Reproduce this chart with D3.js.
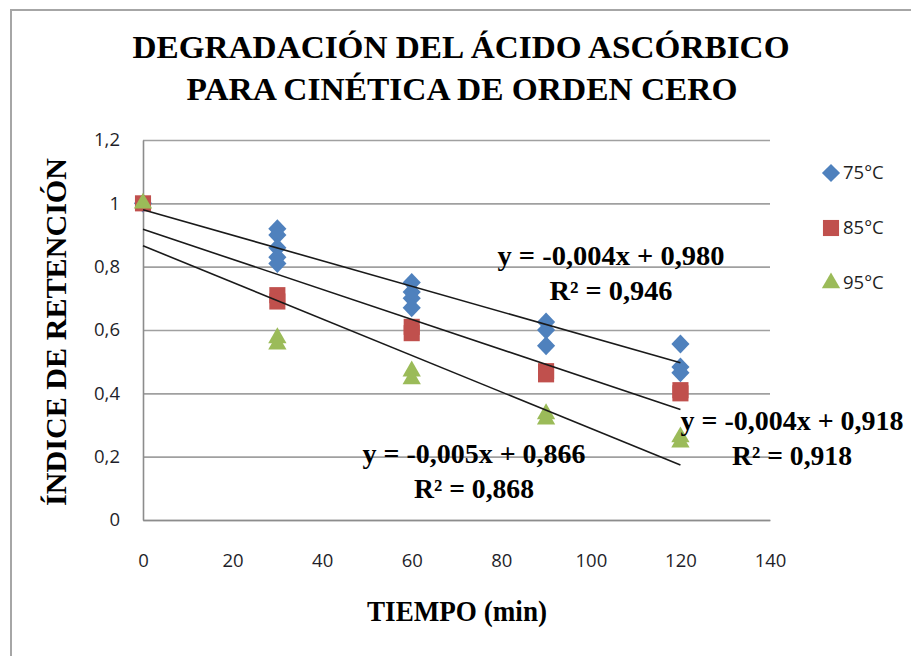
<!DOCTYPE html>
<html>
<head>
<meta charset="utf-8">
<script src="https://cdn.jsdelivr.net/npm/d3@7"></script>
<style>
  body { margin: 0; background: #fff; }
  svg { display: block; }
</style>
</head>
<body>
<script>
// Chart values
var seriesNames = ["75°C", "85°C", "95°C"];
var seriesColors = ["#4F81BD", "#C0504D", "#9BBB59"];

var time75 = [0, 30, 30, 30, 30, 30, 60, 60, 60, 60, 90, 90, 90, 120, 120, 120];
var ret75 = [1.00, 0.92, 0.90, 0.86, 0.83, 0.81, 0.75, 0.72, 0.70, 0.67, 0.625, 0.60, 0.55, 0.556, 0.483, 0.465];

var time85 = [0, 30, 30, 60, 60, 90, 90, 120, 120];
var ret85 = [1.00, 0.71, 0.69, 0.61, 0.59, 0.47, 0.46, 0.41, 0.40];

var time95 = [0, 30, 30, 60, 60, 90, 90, 120, 120];
var ret95 = [1.00, 0.575, 0.555, 0.47, 0.445, 0.335, 0.318, 0.262, 0.246];

// linear trend lines (slope, intercept) and their labels
var trendSlope = [-0.00403, -0.00474, -0.00577];
var trendIntercept = [0.980, 0.918, 0.866];
var trendRange = [0, 120];
var eqLabels = ["y = -0,004x + 0,980", "y = -0,004x + 0,918", "y = -0,005x + 0,866"];
var r2Labels = ["R² = 0,946", "R² = 0,918", "R² = 0,868"];

var xTicks = [0, 20, 40, 60, 80, 100, 120, 140];
var yTicks = [0, 0.2, 0.4, 0.6, 0.8, 1, 1.2];

// SVG area
var svgWidth = 911;
var svgHeight = 656;

var plot = { left: 143, top: 140, right: 770, bottom: 520 };

var svg = d3.select("body")
  .append("svg")
  .attr("width", svgWidth)
  .attr("height", svgHeight);

// chart border (cropped on right and bottom)
svg.append("rect")
  .attr("x", 11)
  .attr("y", 10)
  .attr("width", 1000)
  .attr("height", 1000)
  .attr("fill", "#fff")
  .attr("stroke", "#a6a6a6")
  .attr("stroke-width", 2);

var xScale = d3.scaleLinear().domain([0, 140]).range([plot.left, plot.right]);
var yScale = d3.scaleLinear().domain([0, 1.2]).range([plot.bottom, plot.top]);

var commaFmt = function(d) { return String(+d.toFixed(1)).replace(".", ","); };

// gridlines
svg.append("g")
  .attr("transform", `translate(${plot.left},0)`)
  .call(d3.axisLeft(yScale).tickValues(yTicks).tickSize(-(plot.right - plot.left)).tickFormat(""))
  .call(g => g.select(".domain").remove())
  .call(g => g.selectAll("line").attr("stroke", "#a0a0a0").attr("stroke-width", 1.6));

// y axis
svg.append("g")
  .attr("transform", `translate(${plot.left},0)`)
  .call(d3.axisLeft(yScale).tickValues(yTicks).tickSize(0).tickPadding(23).tickFormat(commaFmt))
  .call(g => g.select(".domain").attr("stroke", "#8c8c8c").attr("stroke-width", 1.6))
  .call(g => g.selectAll("text")
    .attr("font-family", "'Open Sans', sans-serif")
    .attr("font-size", 18.5)
    .attr("fill", "#1f1f2a"));

// x axis
svg.append("g")
  .attr("transform", `translate(0,${plot.bottom})`)
  .call(d3.axisBottom(xScale).tickValues(xTicks).tickSize(0).tickPadding(34))
  .call(g => g.select(".domain").attr("stroke", "#8c8c8c").attr("stroke-width", 1.6))
  .call(g => g.selectAll("text")
    .attr("font-family", "'Open Sans', sans-serif")
    .attr("font-size", 18.5)
    .attr("fill", "#1f1f2a"));

// markers
var symbols = [
  d3.symbol().type(d3.symbolDiamond2).size(210),
  d3.symbol().type(d3.symbolSquare2).size(330),
  d3.symbol().type(d3.symbolTriangle2).size(240)
];

var seriesData = [
  d3.zip(time75, ret75),
  d3.zip(time85, ret85),
  d3.zip(time95, ret95)
];

seriesData.forEach(function(pts, i) {
  svg.append("g")
    .selectAll("path")
    .data(pts)
    .enter()
    .append("path")
    .attr("d", symbols[i])
    .attr("transform", d => `translate(${xScale(d[0])},${yScale(d[1])})` + (i == 0 ? " scale(1,1.05)" : ""))
    .attr("fill", seriesColors[i]);
});

// trend lines
var line = d3.line().x(d => xScale(d[0])).y(d => yScale(d[1]));
trendSlope.forEach(function(m, i) {
  var pts = trendRange.map(t => [t, trendIntercept[i] + m * t]);
  svg.append("path")
    .attr("d", line(pts))
    .attr("fill", "none")
    .attr("stroke", "#1a1a1a")
    .attr("stroke-width", 1.6);
});

// trend labels
var labelPos = [
  { x: 611, y: 265, w1: 227, w2: 123 },
  { x: 792, y: 430, w1: 223, w2: 120 },
  { x: 474, y: 463, w1: 223, w2: 120 }
];
labelPos.forEach(function(p, i) {
  var g = svg.append("g")
    .attr("font-family", "'Liberation Serif', 'Times New Roman', serif")
    .attr("font-weight", "bold")
    .attr("font-size", 27)
    .attr("fill", "#000")
    .attr("text-anchor", "middle");
  g.append("text").attr("x", p.x).attr("y", p.y)
    .attr("textLength", p.w1).attr("lengthAdjust", "spacingAndGlyphs")
    .text(eqLabels[i]);
  g.append("text").attr("x", p.x).attr("y", p.y + 35)
    .attr("textLength", p.w2).attr("lengthAdjust", "spacingAndGlyphs")
    .text(r2Labels[i]);
});

// legend
var legendY = [173, 228, 283];
seriesNames.forEach(function(name, i) {
  svg.append("path")
    .attr("d", symbols[i])
    .attr("transform", `translate(831,${legendY[i]})`)
    .attr("fill", seriesColors[i]);
  svg.append("text")
    .attr("x", 843)
    .attr("y", legendY[i] + 6)
    .attr("font-family", "'Open Sans', sans-serif")
    .attr("font-size", 18.5)
    .attr("fill", "#1f1f1f")
    .text(name);
});

// titles
var serif = "'Liberation Serif', 'Times New Roman', serif";
svg.append("text")
  .attr("x", 461).attr("y", 58)
  .attr("text-anchor", "middle")
  .attr("font-family", serif).attr("font-weight", "bold").attr("font-size", 32)
  .attr("textLength", 657).attr("lengthAdjust", "spacingAndGlyphs")
  .text("DEGRADACIÓN DEL ÁCIDO ASCÓRBICO");
svg.append("text")
  .attr("x", 462).attr("y", 100)
  .attr("text-anchor", "middle")
  .attr("font-family", serif).attr("font-weight", "bold").attr("font-size", 32)
  .attr("textLength", 551).attr("lengthAdjust", "spacingAndGlyphs")
  .text("PARA CINÉTICA DE ORDEN CERO");

svg.append("text")
  .attr("transform", "translate(66,332) rotate(-90)")
  .attr("text-anchor", "middle")
  .attr("font-family", serif).attr("font-weight", "bold").attr("font-size", 30)
  .attr("textLength", 348).attr("lengthAdjust", "spacingAndGlyphs")
  .text("ÍNDICE DE RETENCIÓN");

svg.append("text")
  .attr("x", 457).attr("y", 621)
  .attr("text-anchor", "middle")
  .attr("font-family", serif).attr("font-weight", "bold").attr("font-size", 30)
  .attr("textLength", 180).attr("lengthAdjust", "spacingAndGlyphs")
  .text("TIEMPO (min)");
</script>
</body>
</html>
